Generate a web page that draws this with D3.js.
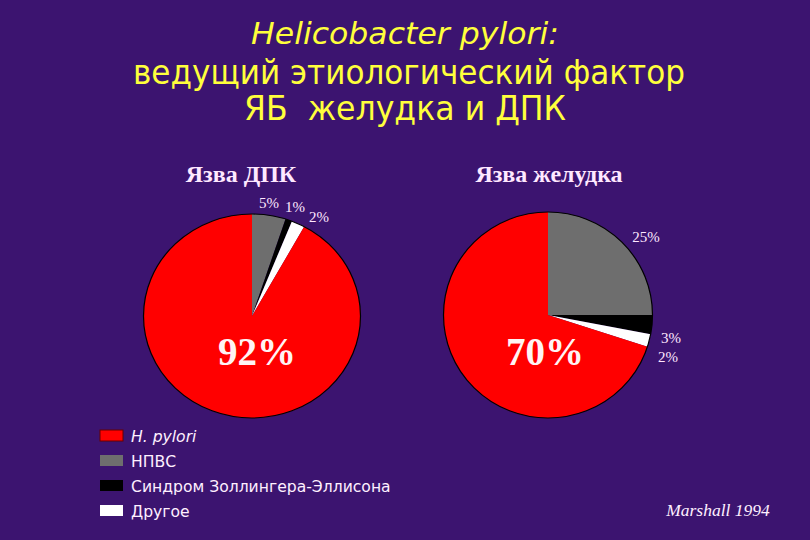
<!DOCTYPE html>
<html><head><meta charset="utf-8">
<script src="https://cdn.jsdelivr.net/npm/d3@7"></script>
<style>body{margin:0;background:#3c1470;}svg{display:block}</style>
</head><body>
<script>
const categories = ["H. pylori", "НПВС", "Синдром Золлингера-Эллисона", "Другое"];
const duodenalValues = [92, 5, 1, 2];
const gastricValues = [70, 25, 3, 2];
const chartTitles = ["Язва ДПК", "Язва желудка"];
const titleLines = ["Helicobacter pylori:", "ведущий этиологический фактор", "ЯБ  желудка и ДПК"];
const sourceNote = "Marshall 1994";

const W = 810, H = 540;
const colors = d3.scaleOrdinal().domain(categories).range(["#ff0000", "#6e6e6e", "#000000", "#ffffff"]);
const svg = d3.select("body").append("svg").attr("width", W).attr("height", H);
svg.append("rect").attr("width", W).attr("height", H).attr("fill", "#3c1470");

// Title
const tfont = "Tahoma, 'DejaVu Sans', sans-serif";
svg.append("text").attr("x", 405).attr("y", 44).attr("text-anchor", "middle")
  .attr("font-family", tfont).attr("font-style", "italic").attr("font-size", 31)
  .attr("textLength", 308).attr("lengthAdjust", "spacingAndGlyphs")
  .attr("fill", "#ffff3c").text(titleLines[0]);
svg.append("text").attr("x", 409).attr("y", 84).attr("text-anchor", "middle")
  .attr("font-family", tfont).attr("font-size", 33).attr("textLength", 552).attr("lengthAdjust", "spacingAndGlyphs")
  .attr("fill", "#ffff3c").text(titleLines[1]);
svg.append("text").attr("x", 405).attr("y", 120).attr("text-anchor", "middle")
  .attr("font-family", tfont).attr("font-size", 33).attr("textLength", 322).attr("lengthAdjust", "spacingAndGlyphs")
  .attr("fill", "#ffff3c").style("white-space", "pre").text(titleLines[2]);

const serif = "'Liberation Serif', 'Times New Roman', serif";
const pieGen = d3.pie().sort(null).value(d => d.v);
// order: gray, black, white, then red clockwise from 12 o'clock
function drawPie(values, cx, cy, rx, ry, title, titleX, smallLabels, bigLabelPos) {
  const data = [1, 2, 3, 0].map(i => ({ cat: categories[i], v: values[i] }));
  const arcs = pieGen(data);
  const g = svg.append("g").attr("transform", `translate(${cx},${cy}) scale(1,${ry / rx})`);
  const arc = d3.arc().innerRadius(0).outerRadius(rx);
  g.selectAll("path").data(arcs).join("path")
    .attr("d", arc).attr("fill", d => colors(d.data.cat));
  g.append("circle").attr("r", rx).attr("fill", "none").attr("stroke", "#000").attr("stroke-width", 1.2);
  svg.append("text").attr("x", titleX).attr("y", 182).attr("text-anchor", "middle")
    .attr("font-family", serif).attr("font-weight", "bold").attr("font-size", 24)
    .attr("fill", "#ffe8ff").text(title);
  smallLabels.forEach(l => {
    svg.append("text").attr("x", l.x).attr("y", l.y).attr("text-anchor", "middle")
      .attr("font-family", serif).attr("font-size", 15).attr("fill", "#ffe8ff")
      .text(values[l.i] + "%");
  });
  svg.append("text").attr("x", bigLabelPos[0]).attr("y", bigLabelPos[1]).attr("text-anchor", "middle")
    .attr("font-family", serif).attr("font-weight", "bold").attr("font-size", 39)
    .attr("fill", "#fff4f4").text(values[0] + "%");
}

drawPie(duodenalValues, 252, 316, 108.5, 102, chartTitles[0], 241,
  [{ i: 1, x: 269, y: 208 }, { i: 2, x: 295, y: 212 }, { i: 3, x: 319, y: 222 }], [257, 365]);
drawPie(gastricValues, 548, 315, 104.5, 103, chartTitles[1], 549,
  [{ i: 1, x: 646, y: 242 }, { i: 2, x: 671, y: 343 }, { i: 3, x: 668, y: 362 }], [545, 365]);

// Legend
const legend = svg.append("g");
categories.forEach((c, i) => {
  const y = 430 + i * 25;
  legend.append("rect").attr("x", 100).attr("y", y).attr("width", 23).attr("height", 11)
    .attr("fill", colors(c)).attr("stroke", i === 0 ? "#600" : "none");
  const t = legend.append("text").attr("x", 131).attr("y", y + 12)
    .attr("font-family", tfont).attr("font-size", 16.5)
    .attr("font-style", i === 0 ? "italic" : "normal")
    .attr("fill", "#fff0ff").text(c);
  const len = t.node().getComputedTextLength();
  t.attr("textLength", len * 0.945).attr("lengthAdjust", "spacingAndGlyphs");
});

svg.append("text").attr("x", 718).attr("y", 516).attr("text-anchor", "middle")
  .attr("font-family", serif).attr("font-style", "italic").attr("font-size", 17.5)
  .attr("fill", "#fff0ff").text(sourceNote);
</script>
</body></html>
